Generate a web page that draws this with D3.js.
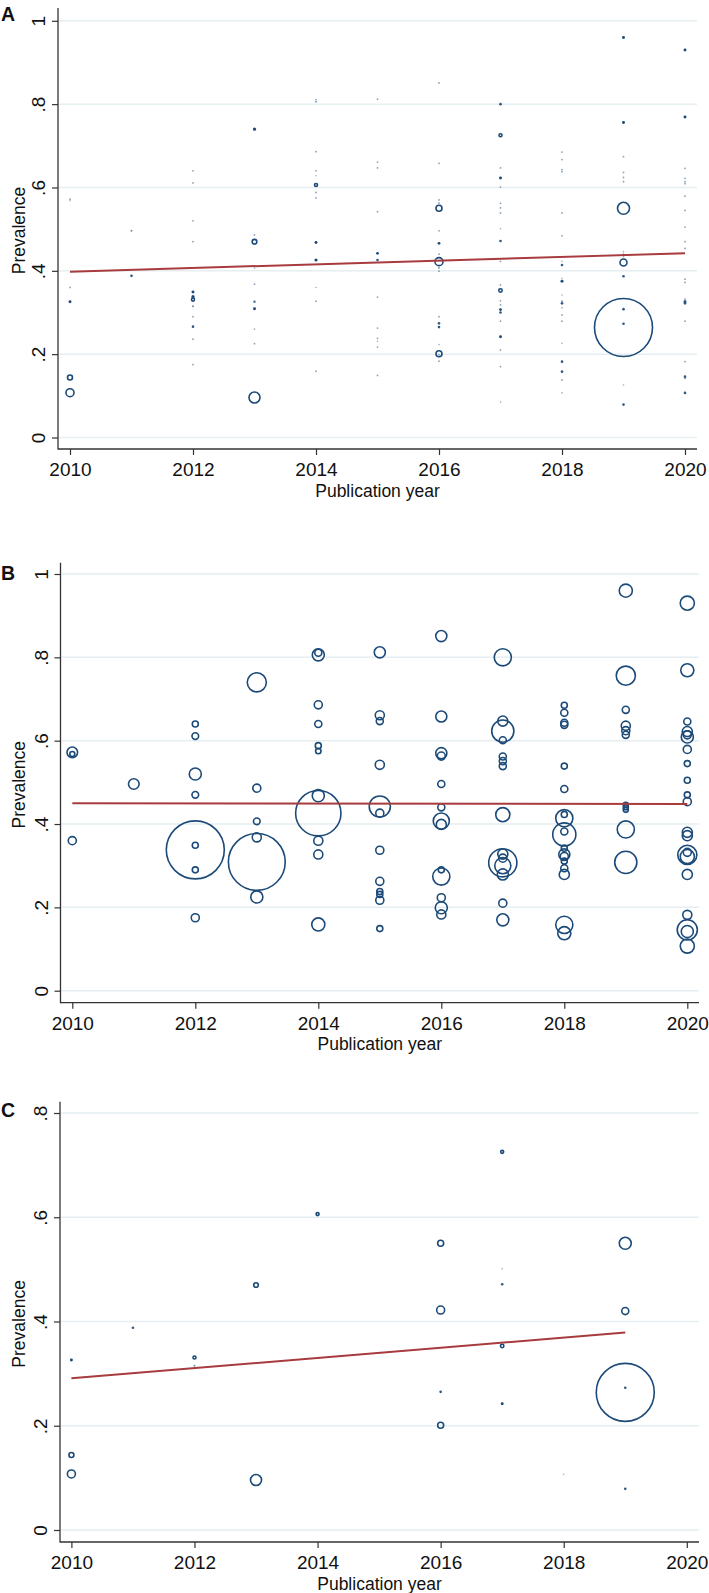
<!DOCTYPE html>
<html>
<head>
<meta charset="utf-8">
<script src="https://cdn.jsdelivr.net/npm/d3@7"></script>
<style>
  body { margin: 0; background: #fff; }
  text { font-family: "Liberation Sans", Arial, sans-serif; fill: #111; }
</style>
</head>
<body>
<svg id="chart" width="709" height="1593"></svg>
<script>
// tick values
const xTicks = [2010, 2012, 2014, 2016, 2018, 2020]
const yTicksAB = [0, .2, .4, .6, .8, 1]
const yTicksC = [0, .2, .4, .6, .8]

// subgroup B studies: [year, prevalence, weight in B model, weight in overall model]
const studiesB = [
  [2010, 0.572, 3.3, 0.04], [2010, 0.568, 0.74, 0.03], [2010, 0.360, 1.9, 0.04],
  [2011, 0.496, 3.3, 0.06],
  [2012, 0.640, 1.07, 0.04], [2012, 0.611, 1.3, 0.04], [2012, 0.520, 4.28, 0.04], [2012, 0.470, 1.3, 0.04],
  [2012, 0.349, 1.07, 0.17], [2012, 0.338, 98.6, 0.2], [2012, 0.290, 1.07, 0.04], [2012, 0.175, 1.9, 0.04],
  [2013, 0.740, 10.7, 0.2], [2013, 0.486, 1.9, 0.04], [2013, 0.4065, 1.3, 0.03], [2013, 0.368, 2.41, 0.04],
  [2013, 0.309, 94.6, 0.17], [2013, 0.225, 4.28, 0.04],
  [2014, 0.811, 1.46, 0.04], [2014, 0.806, 4.28, 0.05], [2014, 0.686, 1.9, 0.04], [2014, 0.640, 1.46, 0.04],
  [2014, 0.588, 1.07, 0.04], [2014, 0.575, 0.87, 0.04], [2014, 0.468, 4.28, 0.17], [2014, 0.426, 60.2, 0.2],
  [2014, 0.360, 2.41, 0.03], [2014, 0.327, 2.41, 0.04], [2014, 0.159, 5.0, 0.04],
  [2015, 0.812, 3.6, 0.04], [2015, 0.661, 2.41, 0.04], [2015, 0.647, 1.46, 0.04], [2015, 0.542, 2.41, 0.04],
  [2015, 0.442, 13.1, 0.15], [2015, 0.426, 1.9, 0.12], [2015, 0.337, 1.9, 0.04], [2015, 0.2625, 1.9, 0.04],
  [2015, 0.238, 1.07, 0.04], [2015, 0.231, 1.07, 0.03], [2015, 0.217, 1.9, 0.04], [2015, 0.149, 1.07, 0.04],
  [2016, 0.851, 3.6, 0.04], [2016, 0.658, 3.6, 0.04], [2016, 0.570, 3.6, 0.04], [2016, 0.563, 1.9, 0.04],
  [2016, 0.496, 1.46, 0.04], [2016, 0.440, 1.46, 0.04], [2016, 0.407, 7.6, 0.05], [2016, 0.399, 3.0, 0.04],
  [2016, 0.290, 1.07, 0.04], [2016, 0.274, 8.6, 0.12], [2016, 0.223, 1.9, 0.03], [2016, 0.199, 4.28, 0.04],
  [2016, 0.183, 2.41, 0.04],
  [2017, 0.800, 8.6, 0.12], [2017, 0.647, 3.0, 0.04], [2017, 0.623, 14.4, 0.17], [2017, 0.601, 1.46, 0.04],
  [2017, 0.562, 1.46, 0.04], [2017, 0.551, 1.46, 0.04], [2017, 0.539, 1.46, 0.04], [2017, 0.4225, 5.83, 0.04],
  [2017, 0.328, 3.0, 0.04], [2017, 0.318, 1.9, 0.04], [2017, 0.307, 23.3, 0.15], [2017, 0.300, 7.6, 0.12],
  [2017, 0.279, 3.6, 0.04], [2017, 0.210, 1.9, 0.04], [2017, 0.170, 4.28, 0.04],
  [2018, 0.685, 1.07, 0.04], [2018, 0.667, 1.46, 0.04], [2018, 0.643, 1.46, 0.04], [2018, 0.638, 1.46, 0.04],
  [2018, 0.539, 1.07, 0.04], [2018, 0.484, 1.46, 0.04], [2018, 0.423, 1.07, 0.03], [2018, 0.414, 8.6, 0.12],
  [2018, 0.382, 1.46, 0.03], [2018, 0.375, 15.7, 0.17], [2018, 0.342, 1.07, 0.03], [2018, 0.327, 3.6, 0.05],
  [2018, 0.322, 1.9, 0.12], [2018, 0.311, 1.07, 0.03], [2018, 0.294, 1.46, 0.04], [2018, 0.279, 3.0, 0.04],
  [2018, 0.158, 8.6, 0.12], [2018, 0.138, 5.0, 0.04],
  [2019, 0.960, 5.0, 0.17], [2019, 0.756, 10.7, 0.17], [2019, 0.674, 1.46, 0.04], [2019, 0.636, 2.41, 0.04],
  [2019, 0.624, 1.9, 0.04], [2019, 0.614, 1.46, 0.04], [2019, 0.446, 0.74, 0.03], [2019, 0.440, 0.74, 0.04],
  [2019, 0.434, 0.74, 0.03], [2019, 0.387, 8.6, 0.12], [2019, 0.308, 14.4, 0.12],
  [2020, 0.930, 5.83, 0.17], [2020, 0.769, 5.0, 0.17], [2020, 0.646, 1.46, 0.04], [2020, 0.622, 2.97, 0.04],
  [2020, 0.614, 1.9, 0.04], [2020, 0.609, 4.28, 0.04], [2020, 0.579, 1.9, 0.04], [2020, 0.545, 1.07, 0.04],
  [2020, 0.505, 1.07, 0.04], [2020, 0.470, 1.07, 0.04], [2020, 0.4536, 1.9, 0.04], [2020, 0.380, 2.97, 0.04],
  [2020, 0.372, 2.97, 0.04], [2020, 0.332, 1.9, 0.04], [2020, 0.326, 10.7, 0.17], [2020, 0.322, 5.83, 0.12],
  [2020, 0.279, 2.97, 0.04], [2020, 0.182, 2.41, 0.04], [2020, 0.146, 11.9, 0.12], [2020, 0.142, 4.28, 0.05],
  [2020, 0.107, 5.83, 0.12]
]

// subgroup C studies: [year, prevalence, weight] (same weight in overall model)
const studiesC = [
  [2010, 0.326, 0.17], [2010, 0.144, 0.74], [2010, 0.1075, 1.9],
  [2011, 0.388, 0.12],
  [2012, 0.331, 0.27], [2012, 0.315, 0.06],
  [2013, 0.470, 0.63], [2013, 0.096, 3.6],
  [2014, 0.606, 0.27],
  [2016, 0.550, 1.07], [2016, 0.422, 1.9], [2016, 0.265, 0.12], [2016, 0.201, 1.07],
  [2017, 0.7255, 0.27], [2017, 0.501, 0.03], [2017, 0.4715, 0.12], [2017, 0.353, 0.34], [2017, 0.242, 0.17],
  [2018, 0.107, 0.03],
  [2019, 0.550, 4.28], [2019, 0.420, 1.46], [2019, 0.273, 0.12], [2019, 0.264, 100], [2019, 0.079, 0.12]
]

// studies only in the overall model: [year, prevalence, weight]
const studiesOther = [
  [2012, 0.266, 0.12], [2012, 0.236, 0.04], [2013, 0.326, 0.1], [2013, 0.260, 0.03],
  [2014, 0.628, 0.03], [2016, 0.466, 0.15], [2017, 0.366, 0.04], [2017, 0.085, 0.03],
  [2018, 0.226, 0.03], [2018, 0.182, 0.12], [2019, 0.126, 0.03]
]

// fitted meta-regression lines: [year, predicted prevalence]
const fitA = [[2010, 0.398], [2020, 0.442]]
const fitB = [[2010, 0.4497], [2020, 0.448]]
const fitC = [[2010, 0.291], [2019, 0.379]]

const pointsA = studiesB.map(d => ({year: d[0], prev: d[1], w: d[3]}))
  .concat(studiesC.map(d => ({year: d[0], prev: d[1], w: d[2]})))
  .concat(studiesOther.map(d => ({year: d[0], prev: d[1], w: d[2]})))
const pointsB = studiesB.map(d => ({year: d[0], prev: d[1], w: d[2]}))
const pointsC = studiesC.map(d => ({year: d[0], prev: d[1], w: d[2]}))

const panels = [
  {label: "A", letterY: 21, points: pointsA, fit: fitA, yTicks: yTicksAB, yMax: 1,
   axisX: 58, right: 697, top: 8, bottom: 449, y0: 437.5, y1: 20.8, x0: 70, x1: 685},
  {label: "B", letterY: 580, points: pointsB, fit: fitB, yTicks: yTicksAB, yMax: 1,
   axisX: 60.5, right: 699, top: 562.7, bottom: 1002.7, y0: 990.7, y1: 574, x0: 72.3, x1: 687.3},
  {label: "C", letterY: 1117, points: pointsC, fit: fitC, yTicks: yTicksC, yMax: 0.8,
   axisX: 60, right: 699, top: 1101.7, bottom: 1542, y0: 1530, y1: 1113, x0: 71.4, x1: 686.8}
]

const navy = "#1c4a78"
const red = "#a83b3d"
const svg = d3.select("#chart")

function fmt(v) {
  if (v === 0) return "0"
  if (v === 1) return "1"
  return d3.format(".1f")(v).replace(/^0/, "")
}

function draw_panel(p) {
  let g = svg.append("g")
  let x = d3.scaleLinear().domain([2010, 2020]).range([p.x0, p.x1])
  let y = d3.scaleLinear().domain([0, p.yMax]).range([p.y0, p.y1])
  let r = d3.scaleSqrt().domain([0, d3.max(p.points, d => d.w)]).range([0, 29])

  // grid
  g.append("g").selectAll("line")
    .data(p.yTicks).enter()
    .append("line")
    .attr("x1", p.axisX + 1).attr("x2", p.right)
    .attr("y1", d => y(d)).attr("y2", d => y(d))
    .attr("stroke", "#e5eef1").attr("stroke-width", 1.5)

  // axes
  let xa = d3.axisBottom(x).tickValues(xTicks).tickFormat(d3.format("d"))
    .tickSize(6).tickPadding(8).tickSizeOuter(0)
  let gx = g.append("g").attr("transform", `translate(0, ${p.bottom})`).call(xa)
  gx.select(".domain").remove()
  gx.selectAll("line").attr("stroke", "#333").attr("stroke-width", 1.2)
  gx.selectAll("text").style("font-size", "19px").attr("fill", "#111")

  let ya = d3.axisLeft(y).tickValues(p.yTicks).tickFormat(fmt).tickSize(6).tickSizeOuter(0)
  let gy = g.append("g").attr("transform", `translate(${p.axisX}, 0)`).call(ya)
  gy.select(".domain").remove()
  gy.selectAll("line").attr("stroke", "#333").attr("stroke-width", 1.2)
  gy.selectAll("text")
    .attr("x", null).attr("dy", null)
    .attr("text-anchor", "middle")
    .attr("transform", "translate(-13, 0) rotate(-90)")
    .style("font-size", "19px").attr("fill", "#111")

  g.append("line")
    .attr("x1", p.axisX).attr("x2", p.axisX).attr("y1", p.top).attr("y2", p.bottom + 0.6)
    .attr("stroke", "#333").attr("stroke-width", 1.3)
  g.append("line")
    .attr("x1", p.axisX).attr("x2", p.right).attr("y1", p.bottom).attr("y2", p.bottom)
    .attr("stroke", "#333").attr("stroke-width", 1.3)

  // titles
  g.append("text")
    .attr("x", (p.axisX + p.right) / 2).attr("y", p.bottom + 47.5)
    .attr("text-anchor", "middle").style("font-size", "17.5px")
    .text("Publication year")
  g.append("text")
    .attr("transform", `translate(25, ${(p.top + p.bottom) / 2 + 2}) rotate(-90)`)
    .attr("text-anchor", "middle").style("font-size", "17.5px")
    .text("Prevalence")
  g.append("text")
    .attr("x", 1).attr("y", p.letterY)
    .style("font-size", "19.5px").style("font-weight", "bold")
    .text(p.label)

  // bubbles
  g.append("g").selectAll("circle")
    .data(p.points).enter()
    .append("circle")
    .attr("cx", d => x(d.year))
    .attr("cy", d => y(d.prev))
    .attr("r", d => r(d.w) < 1.5 ? r(d.w) + 0.3 : r(d.w))
    .attr("fill", d => r(d.w) < 1.5 ? navy : "none")
    .attr("fill-opacity", d => Math.min(1, r(d.w) / 1.1))
    .attr("stroke", d => r(d.w) < 1.5 ? "none" : navy)
    .attr("stroke-width", 1.6)

  // fitted line
  let line = d3.line().x(d => x(d[0])).y(d => y(d[1]))
  g.append("path")
    .datum(p.fit)
    .attr("d", line)
    .attr("fill", "none")
    .attr("stroke", red)
    .attr("stroke-width", 2)
}

panels.forEach(draw_panel)
</script>
</body>
</html>
